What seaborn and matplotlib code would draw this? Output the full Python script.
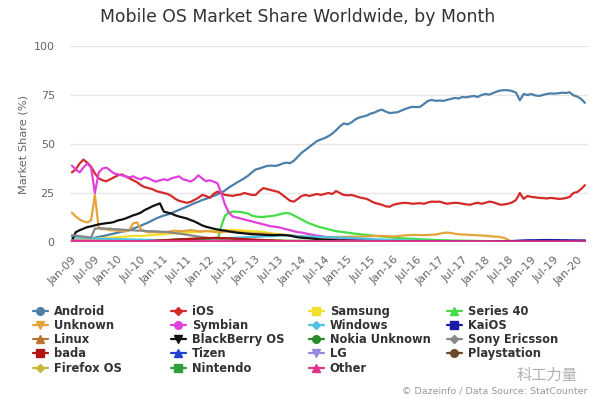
import numpy as np
import pandas as pd
import matplotlib
matplotlib.use("Agg")
import matplotlib.pyplot as plt
import seaborn as sns
from matplotlib.lines import Line2D

NaN = np.nan

# ---------------- data (monthly, Jan-2009 .. Mar-2020) ----------------
first_month = "2009-01"
n_months = 135

tick_labels = ["Jan-09", "Jul-09", "Jan-10", "Jul-10", "Jan-11", "Jul-11", "Jan-12", "Jul-12",
               "Jan-13", "Jul-13", "Jan-14", "Jul-14", "Jan-15", "Jul-15", "Jan-16", "Jul-16",
               "Jan-17", "Jul-17", "Jan-18", "Jul-18", "Jan-19", "Jul-19", "Jan-20"]

android = [2.5, 2.4, 2.3, 2.2, 2.0, 1.9, 2.2, 2.6, 3.0, 3.4, 3.9, 4.3,
           4.8, 5.2, 5.6, 6.2, 6.8, 7.6, 8.3, 9.2, 10.0, 11.0, 12.0, 12.8,
           13.5, 14.0, 14.8, 15.6, 16.4, 17.2, 18.0, 18.9, 19.8, 20.5, 21.4, 22.0,
           22.8, 23.5, 24.3, 25.2, 26.3, 27.8, 29.0, 30.2, 31.3, 32.5, 33.8, 35.5,
           37.0, 37.5, 38.2, 38.8, 39.0, 38.8, 39.2, 40.0, 40.5, 40.2, 41.5, 43.5,
           45.5, 47.0, 48.5, 50.0, 51.5, 52.3, 53.0, 54.0, 55.3, 57.0, 59.0, 60.5,
           60.0, 61.0, 62.5, 63.5, 64.0, 64.5, 65.5, 66.0, 67.0, 67.5, 66.5, 65.8,
           66.0, 66.2, 67.0, 67.8, 68.5, 69.0, 68.8, 69.0, 70.5, 72.0, 72.5, 72.0,
           72.2, 72.0, 72.5, 73.0, 73.5, 73.2, 74.0, 73.8, 74.2, 74.5, 74.0, 75.0,
           75.5, 75.2, 76.0, 76.8, 77.3, 77.5, 77.4, 77.0, 76.2, 72.3, 75.5, 75.0,
           75.5, 74.8, 74.5, 75.0, 75.5, 75.8, 75.7, 75.9, 76.2, 76.0, 76.4, 74.8,
           74.2, 73.0, 71.0]

ios = [35.5, 37.0, 40.0, 42.0, 40.5, 38.5, 35.0, 32.5, 31.5, 31.0, 32.0, 33.0,
       34.0, 34.5, 33.5, 32.5, 31.5, 30.5, 29.0, 28.0, 27.5, 27.0, 26.0, 25.5,
       25.0, 24.5, 23.5, 22.0, 21.0, 20.5, 20.0, 20.5, 21.5, 22.5, 24.0, 23.5,
       22.5, 24.5, 25.7, 25.0, 24.0, 23.8, 23.5, 24.0, 24.2, 25.0, 24.5, 24.0,
       24.0, 26.0, 27.5, 27.0, 26.5, 26.0, 25.5, 24.0, 22.5, 21.0, 20.6, 22.0,
       23.5, 24.0, 23.5, 24.0, 24.5, 24.0, 24.5, 25.0, 24.5, 26.0, 25.0, 24.0,
       23.8, 24.0, 23.5, 22.8, 22.4, 22.0, 21.0, 20.0, 19.5, 19.0, 18.2, 18.0,
       19.0, 19.5, 19.8, 20.0, 19.8, 19.5, 19.7, 19.8, 19.5, 20.2, 20.6, 20.5,
       20.6, 20.0, 19.5, 19.8, 20.0, 19.9, 19.5, 19.2, 19.0, 19.6, 20.0, 19.5,
       20.0, 20.6, 20.3, 19.6, 19.0, 19.2, 19.6, 20.2, 21.5, 25.0, 22.0, 23.5,
       23.0, 22.8, 22.5, 22.4, 22.2, 22.5, 22.3, 22.0, 22.1, 22.4, 23.0, 25.0,
       25.5, 27.0, 29.0]

samsung = [1.0, 1.0, 1.2, 1.2, 1.5, 1.5, 1.6, 1.8, 2.0, 2.0, 2.2, 2.4,
           2.5, 2.6, 2.8, 3.0, 3.0, 3.2, 3.0, 3.2, 3.4, 3.5, 3.6, 3.8,
           4.0, 4.2, 4.3, 4.5, 4.4, 4.6, 4.8, 5.0, 5.0, 5.2, 5.3, 5.5,
           5.5, 5.6, 5.8, 6.0, 6.0, 6.2, 6.2, 6.0, 6.0, 5.8, 5.6, 5.5,
           5.4, 5.3, 5.0, 4.8, 4.5, 4.2, 4.0, 3.8, 3.5, 3.2, 3.0, 2.7,
           2.5, 2.3, 2.1, 1.9, 1.7, 1.5, 1.4, 1.3, 1.2, 1.1, 1.0, 0.9,
           0.9, 0.85, 0.8, 0.8, 0.75, 0.7, 0.7, 0.65, 0.6, 0.6, 0.55, 0.5,
           0.5, 0.48, 0.46, 0.44, 0.42, 0.4, 0.38, 0.36, 0.35, 0.34, 0.33, 0.32,
           0.3, 0.3, 0.28, 0.28, 0.26, 0.26, 0.25, 0.24, 0.23, 0.22, 0.21, 0.2,
           0.2, 0.19, 0.18, 0.17, 0.16, 0.15, 0.14, 0.13, 0.12, 0.11, 0.1, 0.1,
           0.1, 0.09, 0.09, 0.08, 0.08, 0.07, 0.07, 0.06, 0.06, 0.05, 0.05, 0.05,
           0.05, 0.04, 0.04]

series40_start = "2012-03"
series40 = [0.3, 8.0, 13.5, 15.0, 15.5, 15.5, 15.3, 15.0, 14.5, 13.5,
            13.0, 12.8, 12.8, 13.0, 13.2, 13.5, 14.0, 14.5, 14.8, 14.5, 13.5, 12.5,
            11.5, 10.4, 9.5, 8.8, 8.0, 7.5, 7.0, 6.5, 6.0, 5.5, 5.3, 5.0,
            4.8, 4.5, 4.2, 4.0, 3.8, 3.6, 3.4, 3.2, 3.0, 2.8, 2.6, 2.4,
            2.2, 2.0, 1.9, 1.8, 1.7, 1.6, 1.5, 1.4, 1.3, 1.2, 1.1, 1.0,
            0.95, 0.9, 0.85, 0.8, 0.75, 0.7, 0.68, 0.65, 0.6, 0.58, 0.55, 0.5,
            0.48, 0.45, 0.42, 0.4, 0.38, 0.35, 0.32, 0.3, 0.28, 0.26, 0.24, 0.22,
            0.2, 0.19, 0.18, 0.17, 0.16, 0.15, 0.14, 0.13, 0.12, 0.11, 0.1, 0.1,
            0.09, 0.09, 0.08]

unknown = [15.0, 13.0, 11.5, 10.5, 10.0, 11.0, 24.0, 7.0, 6.5, 6.5, 6.0, 6.0,
           5.8, 5.5, 5.5, 6.0, 9.5, 10.0, 6.5, 5.5, 5.0, 5.0, 5.0, 4.8,
           5.0, 5.2, 5.5, 5.8, 5.6, 5.5, 5.8, 6.0, 5.8, 5.5, 5.4, 5.6,
           5.5, 5.2, 5.0, 5.0, 5.2, 5.4, 5.5, 5.3, 5.0, 4.8, 4.6, 4.5,
           4.5, 4.4, 4.3, 4.2, 4.0, 3.8, 3.6, 3.5, 3.4, 3.3, 3.2, 3.0,
           2.9, 2.8, 2.7, 2.6, 2.5, 2.5, 2.4, 2.4, 2.5, 2.5, 2.6, 2.6,
           2.6, 2.7, 2.7, 2.8, 2.8, 2.9, 3.0, 3.0, 3.1, 3.1, 3.0, 2.9,
           2.8, 3.0, 3.2, 3.4, 3.5, 3.6, 3.6, 3.5, 3.5, 3.6, 3.7, 3.8,
           4.2, 4.6, 4.8, 4.6, 4.2, 4.0, 3.8, 3.8, 3.6, 3.5, 3.4, 3.3,
           3.2, 3.0, 2.8, 2.7, 2.5, 2.0, 1.0, 0.3]

symbian = [39.0, 37.0, 35.5, 38.0, 40.0, 38.0, 25.0, 35.5, 37.5, 38.0, 36.5, 35.0,
           34.5, 34.0, 33.5, 33.0, 33.5, 32.5, 32.0, 33.0, 32.5, 31.5, 30.8, 31.5,
           32.0, 31.5, 32.5, 33.0, 33.5, 32.0, 31.5, 30.8, 32.0, 34.0, 32.5, 31.0,
           31.5, 30.8, 30.0, 25.0, 19.0, 15.0, 13.0, 12.5, 12.0, 11.5, 11.0, 10.5,
           10.0, 9.5, 9.0, 8.5, 8.0, 7.8, 7.5, 7.0, 6.5, 6.0, 5.5, 5.0,
           4.8, 4.4, 4.0, 3.6, 3.2, 3.0, 2.7, 2.4, 2.2, 2.0, 1.8, 1.6,
           1.5, 1.4, 1.3, 1.2, 1.1, 1.0, 0.9, 0.8, 0.75, 0.7, 0.65, 0.6,
           0.55, 0.5, 0.45, 0.42, 0.4, 0.38, 0.35, 0.32, 0.3, 0.28, 0.26, 0.25,
           0.24, 0.23, 0.22, 0.21, 0.2, 0.19, 0.18, 0.17, 0.16, 0.15, 0.14, 0.13,
           0.12, 0.12, 0.11, 0.11, 0.1, 0.1, 0.09, 0.09, 0.08, 0.08, 0.07, 0.07,
           0.06, 0.06, 0.06, 0.05, 0.05, 0.05, 0.04, 0.04, 0.04, 0.04, 0.03, 0.03,
           0.03, 0.03, 0.03]

windows = [2.8, 2.6, 2.4, 2.2, 2.0, 1.9, 1.8, 1.7, 1.6, 1.6, 1.5, 1.5,
           1.5, 1.4, 1.4, 1.3, 1.3, 1.2, 1.2, 1.1, 1.1, 1.0, 1.0, 1.0,
           1.0, 1.0, 1.1, 1.1, 1.2, 1.2, 1.3, 1.4, 1.4, 1.5, 1.5, 1.6,
           1.6, 1.7, 1.8, 1.9, 2.0, 2.0, 2.1, 2.2, 2.3, 2.4, 2.5, 2.6,
           2.6, 2.7, 2.8, 2.9, 3.0, 3.1, 3.2, 3.3, 3.3, 3.2, 3.1, 3.0,
           2.9, 2.8, 2.8, 2.7, 2.6, 2.5, 2.5, 2.4, 2.3, 2.3, 2.2, 2.2,
           2.1, 2.0, 1.9, 1.8, 1.7, 1.6, 1.5, 1.4, 1.3, 1.2, 1.1, 1.0,
           0.95, 0.9, 0.85, 0.8, 0.75, 0.7, 0.65, 0.6, 0.55, 0.5, 0.48, 0.45,
           0.42, 0.4, 0.38, 0.36, 0.34, 0.32, 0.3, 0.28, 0.26, 0.25, 0.24, 0.23,
           0.22, 0.21, 0.2, 0.19, 0.18, 0.17, 0.16, 0.15, 0.14, 0.13, 0.12, 0.11,
           0.1, 0.1, 0.09, 0.09, 0.08, 0.08, 0.07, 0.07, 0.06, 0.06, 0.05, 0.05,
           0.05, 0.04, 0.04]

kaios_start = "2018-01"
kaios = [0.1, 0.15, 0.2, 0.25, 0.3, 0.35, 0.4, 0.5, 0.6, 0.7, 0.8, 0.85,
         0.9, 0.9, 0.95, 1.0, 1.0, 1.0, 0.95, 0.95, 0.9, 0.9, 0.85, 0.85,
         0.8, 0.8, 0.8]

linux = [0.6, 0.6, 0.5, 0.5, 0.5, 0.5, 0.4, 0.4, 0.4, 0.4, 0.4, 0.3,
         0.3, 0.3, 0.3, 0.3, 0.3, 0.3, 0.2, 0.2, 0.2, 0.2, 0.2, 0.2,
         0.2, 0.2, 0.2, 0.2, 0.2, 0.15, 0.15, 0.15, 0.15, 0.15, 0.15, 0.1]

blackberry = [0.5, 5.0, 6.0, 6.8, 7.6, 8.0, 8.5, 9.0, 9.3, 9.6, 9.8, 10.2,
              11.0, 11.4, 12.0, 12.8, 13.6, 14.2, 15.0, 16.3, 17.2, 18.2, 19.0, 19.7,
              15.5, 15.0, 14.5, 13.6, 13.0, 12.5, 12.0, 11.2, 10.5, 9.5, 8.5, 7.8,
              7.3, 6.8, 6.4, 6.0, 5.8, 5.4, 5.1, 4.8, 4.6, 4.4, 4.2, 4.0,
              3.9, 3.8, 3.7, 3.6, 3.5, 3.5, 3.6, 3.6, 3.5, 3.2, 2.8, 2.4,
              2.2, 2.0, 1.9, 1.7, 1.5, 1.3, 1.2, 1.1, 1.0, 0.9, 0.8, 0.8,
              0.7, 0.7, 0.6, 0.6, 0.55, 0.5, 0.5, 0.45, 0.45, 0.4, 0.4, 0.35,
              0.35, 0.3, 0.3, 0.28, 0.26, 0.25, 0.24, 0.22, 0.2, 0.2, 0.18, 0.17,
              0.16, 0.15, 0.14, 0.13, 0.12, 0.12, 0.11, 0.1, 0.1, 0.09, 0.09, 0.08,
              0.08, 0.07, 0.07, 0.06, 0.06, 0.06, 0.05, 0.05, 0.05, 0.05, 0.04, 0.04,
              0.04, 0.04, 0.03, 0.03, 0.03, 0.03, 0.03, 0.02, 0.02, 0.02, 0.02, 0.02,
              0.02, 0.02, 0.02]

nokia_start = "2011-01"
nokia_unknown = [0.5, 0.8, 1.0, 1.2, 1.3, 1.4, 1.5, 1.5, 1.6, 1.6, 1.7, 1.7,
                 1.8, 1.8, 1.8, 1.7, 1.6, 1.5, 1.4, 1.3, 1.2, 1.1, 1.0, 1.0,
                 0.9, 0.9, 0.8, 0.8, 0.8, 0.7, 0.7, 0.7, 0.6, 0.6, 0.6, 0.6,
                 0.6, 0.55, 0.55, 0.5, 0.5, 0.5, 0.45, 0.45, 0.45, 0.4, 0.4, 0.4,
                 0.4, 0.38, 0.36, 0.35, 0.34, 0.33, 0.32, 0.3, 0.3, 0.28, 0.27, 0.26,
                 0.25, 0.24, 0.23, 0.22, 0.21, 0.2, 0.19, 0.18, 0.17, 0.16, 0.15, 0.14]

sony_ericsson = [3.5, 3.2, 3.0, 2.8, 2.5, 2.3, 6.8, 7.0, 7.0, 6.8, 6.8, 6.5,
                 6.5, 6.3, 6.2, 6.0, 6.0, 5.8, 5.8, 5.6, 5.5, 5.5, 5.4, 5.3,
                 5.2, 5.0, 4.8, 4.5, 4.3, 4.0, 3.7, 3.4, 3.1, 2.8, 2.5, 2.2,
                 2.0, 1.8, 1.6, 1.4, 1.3, 1.2, 1.0, 0.9, 0.8, 0.7, 0.6, 0.5,
                 0.45, 0.4, 0.38, 0.35, 0.32, 0.3, 0.28, 0.26, 0.24, 0.22, 0.2, 0.18,
                 0.16, 0.15, 0.14, 0.13, 0.12, 0.11, 0.1, 0.09, 0.08, 0.08, 0.07, 0.07]

bada_start = "2010-06"
bada = [0.2, 0.3, 0.4, 0.5, 0.6, 0.7, 0.8, 0.9, 1.0, 1.1, 1.2, 1.3,
        1.4, 1.5, 1.6, 1.7, 1.8, 1.9, 2.0, 2.0, 2.1, 2.1, 2.0, 2.0,
        1.9, 1.8, 1.7, 1.6, 1.5, 1.4, 1.3, 1.2, 1.1, 1.0, 0.9, 0.8,
        0.7, 0.6, 0.5, 0.4, 0.3, 0.2]

tizen_start = "2015-01"
tizen = [0.1, 0.1, 0.12, 0.12, 0.14, 0.15, 0.16, 0.18, 0.2, 0.2, 0.22, 0.22,
         0.24, 0.25, 0.26, 0.27, 0.28, 0.3, 0.3, 0.3, 0.3, 0.29, 0.28, 0.27,
         0.26, 0.25, 0.24, 0.22, 0.2, 0.18, 0.16, 0.15, 0.14, 0.12, 0.1, 0.1]

lg = [0.8, 0.8, 0.7, 0.7, 0.7, 0.6, 0.6, 0.6, 0.5, 0.5, 0.5, 0.5,
      0.4, 0.4, 0.4, 0.4, 0.3, 0.3, 0.3, 0.3, 0.3, 0.2, 0.2, 0.2]

playstation = [0.2, 0.2, 0.2, 0.2, 0.2, 0.15, 0.15, 0.15, 0.15, 0.15, 0.1, 0.1,
               0.1, 0.1, 0.1, 0.1, 0.1, 0.1, 0.08, 0.08, 0.08, 0.08, 0.06, 0.06]

firefox_start = "2014-06"
firefox_os = [0.02, 0.04, 0.06, 0.08, 0.1, 0.1, 0.12, 0.12, 0.12, 0.1, 0.1, 0.1,
              0.1, 0.08, 0.08, 0.08, 0.06, 0.06, 0.06, 0.05, 0.05, 0.04, 0.04, 0.03]

nintendo = [0.3, 0.3, 0.3, 0.25, 0.25, 0.25, 0.2, 0.2, 0.2, 0.2, 0.2, 0.2,
            0.15, 0.15, 0.15, 0.15, 0.15, 0.12, 0.12, 0.12, 0.1, 0.1, 0.1, 0.1]

other = [0.5, 0.5, 0.5, 0.5, 0.5, 0.5, 0.5, 0.45, 0.45, 0.45, 0.45, 0.45,
         0.45, 0.45, 0.4, 0.4, 0.4, 0.4, 0.4, 0.4, 0.4, 0.4, 0.4, 0.4,
         0.4, 0.4, 0.4, 0.4, 0.4, 0.4, 0.4, 0.4, 0.4, 0.4, 0.4, 0.4,
         0.4, 0.4, 0.4, 0.4, 0.4, 0.4, 0.4, 0.4, 0.4, 0.4, 0.4, 0.4,
         0.4, 0.4, 0.4, 0.4, 0.4, 0.4, 0.4, 0.4, 0.4, 0.4, 0.4, 0.4,
         0.4, 0.4, 0.4, 0.4, 0.4, 0.4, 0.4, 0.4, 0.4, 0.4, 0.4, 0.4,
         0.35, 0.35, 0.35, 0.35, 0.35, 0.35, 0.35, 0.35, 0.35, 0.35, 0.35, 0.35,
         0.35, 0.35, 0.35, 0.35, 0.35, 0.35, 0.35, 0.35, 0.35, 0.35, 0.35, 0.35,
         0.3, 0.3, 0.3, 0.3, 0.3, 0.3, 0.3, 0.3, 0.3, 0.3, 0.3, 0.3,
         0.3, 0.3, 0.3, 0.3, 0.3, 0.3, 0.3, 0.3, 0.3, 0.3, 0.3, 0.3,
         0.3, 0.3, 0.3, 0.3, 0.3, 0.3, 0.3, 0.3, 0.3, 0.3, 0.3, 0.3,
         0.3, 0.3, 0.3]

os_names = ["Android", "iOS", "Samsung", "Series 40", "Unknown", "Symbian", "Windows",
            "KaiOS", "Linux", "BlackBerry OS", "Nokia Unknown", "Sony Ericsson", "bada",
            "Tizen", "LG", "Playstation", "Firefox OS", "Nintendo", "Other"]

os_colors = ["#4d80a8", "#d42a2a", "#f2e02c", "#45dd45", "#e3a43a", "#e040dc", "#4ec2e2",
             "#1a1aa8", "#b87430", "#111111", "#2a8a2a", "#888888", "#b01818",
             "#2040d0", "#9a88e0", "#6b4a2a", "#c8b83a", "#2e9e3e", "#e0338a"]

os_markers = ["o", "D", "s", "^", "v"] * 4

series_def = {
    "Android": (first_month, android), "iOS": (first_month, ios),
    "Samsung": (first_month, samsung), "Series 40": (series40_start, series40),
    "Unknown": (first_month, unknown), "Symbian": (first_month, symbian),
    "Windows": (first_month, windows), "KaiOS": (kaios_start, kaios),
    "Linux": (first_month, linux), "BlackBerry OS": (first_month, blackberry),
    "Nokia Unknown": (nokia_start, nokia_unknown), "Sony Ericsson": (first_month, sony_ericsson),
    "bada": (bada_start, bada), "Tizen": (tizen_start, tizen), "LG": (first_month, lg),
    "Playstation": (first_month, playstation), "Firefox OS": (firefox_start, firefox_os),
    "Nintendo": (first_month, nintendo), "Other": (first_month, other),
}

months = pd.period_range(first_month, periods=n_months, freq="M")
rows = []
for name in os_names:
    start, vals = series_def[name]
    s0 = months.get_loc(pd.Period(start, freq="M"))
    for i, v in enumerate(vals):
        rows.append((name, s0 + i, v))
df = pd.DataFrame(rows, columns=["os", "m", "share"]).dropna()

# ---------------- figure ----------------
sns.set_theme(style="white")
plt.rcParams["font.family"] = ["DejaVu Sans"]

W, H = 600, 399
fig = plt.figure(figsize=(6, 3.99), dpi=100)
ax = fig.add_axes([70 / W, 1 - 242 / H, 518 / W, 196 / H])

palette = dict(zip(os_names, os_colors))
sns.lineplot(data=df, x="m", y="share", hue="os", hue_order=os_names, palette=palette,
             estimator=None, errorbar=None, linewidth=1.6, legend=False, ax=ax)

ax.set_xlim(-0.5, 134.8)
ax.set_ylim(0, 100)
for sp in ax.spines.values():
    sp.set_visible(False)
ax.set_yticks([0, 25, 50, 75, 100])
ax.set_yticklabels(["0", "25", "50", "75", "100"])
ax.yaxis.grid(True, color="#e6e6e6", linewidth=1)
ax.xaxis.grid(False)
ax.set_axisbelow(True)
ax.set_xticks(np.arange(0, 133, 6))
ax.set_xticklabels(tick_labels, rotation=45, ha="right", va="top", rotation_mode="anchor")
ax.tick_params(axis="x", length=0, pad=9, labelsize=8, labelcolor="#666666")
ax.tick_params(axis="y", length=0, pad=11, labelsize=8, labelcolor="#666666")
ax.set_xlabel("")
ax.set_ylabel("Market Share (%)", fontsize=8.2, color="#666666", labelpad=4)

fig.text(0.496, 1 - 17 / H, "Mobile OS Market Share Worldwide, by Month",
         ha="center", va="center", fontsize=12.4, color="#333333")

# legend: four columns, entries in row-major order as in the original
col_x = [33, 171, 309, 447]
for c in range(4):
    names = os_names[c::4]
    handles = [Line2D([], [], color=palette[n], marker=os_markers[os_names.index(n)],
                      markersize=5.5 if os_markers[os_names.index(n)] != "D" else 4.5,
                      linewidth=1.6) for n in names]
    leg = fig.legend(handles, names, loc="upper left",
                     bbox_to_anchor=(col_x[c] / W, 1 - 305 / H),
                     frameon=False, borderpad=0, borderaxespad=0,
                     handlelength=1.3, handletextpad=0.5, labelspacing=0.1,
                     prop={"weight": "bold", "size": 8.3})
    for t in leg.get_texts():
        t.set_color("#333333")

fig.text(588 / W, 1 - 391 / H, "\u00a9 Dazeinfo / Data Source: StatCounter",
         ha="right", va="center", fontsize=6.8, color="#9a9a9a")
fig.text(578 / W, 1 - 375 / H, "科工力量", ha="right", va="center", fontsize=11,
         color="#b0b0b0", family=["Noto Sans CJK SC", "DejaVu Sans"])

fig.savefig("out.png", dpi=100, facecolor="white")
